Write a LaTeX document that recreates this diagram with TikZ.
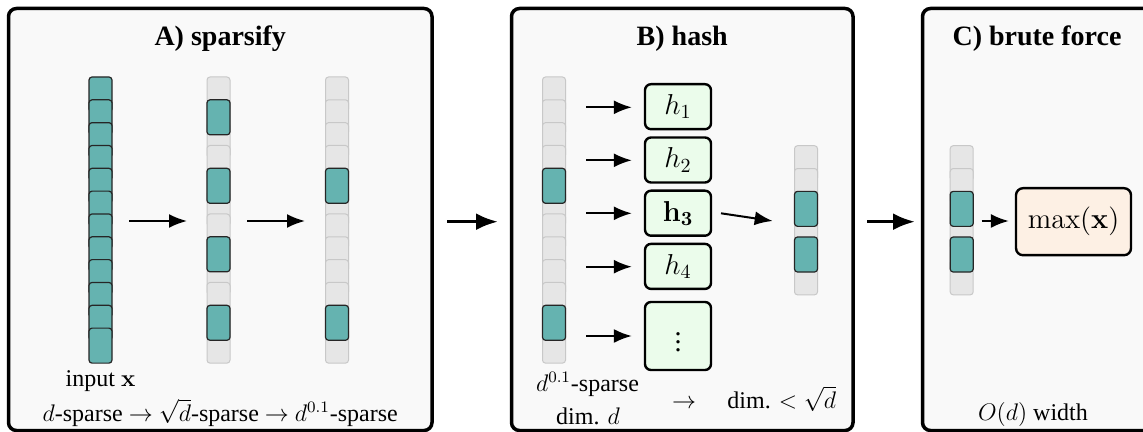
\documentclass[tikz,border=0pt]{standalone}
\usepackage[no-math]{fontspec}
\setmainfont{Liberation Serif}
\newfontfamily\lserif{Liberation Serif}
\usetikzlibrary{arrows.meta}
\definecolor{tealcell}{RGB}{101,179,176}
\definecolor{graycell}{RGB}{230,230,230}
\definecolor{graystroke}{RGB}{200,200,200}
\definecolor{panelbg}{RGB}{249,249,249}
\definecolor{hashbg}{RGB}{235,252,235}
\definecolor{maxbg}{RGB}{253,240,228}
\tikzset{
  panel/.style={draw=black, line width=1.75pt, fill=panelbg, rounded corners=4pt, inner sep=0pt},
  gcell/.style={draw=graystroke, fill=graycell, line width=0.5pt, rounded corners=1.5pt, minimum width=11.5pt, minimum height=17.5pt, inner sep=0pt},
  tcell/.style={draw=black!85, fill=tealcell, line width=0.6pt, rounded corners=1.5pt, minimum width=11.5pt, minimum height=17.5pt, inner sep=0pt},
  hbox/.style={draw=black, fill=hashbg, line width=1.2pt, rounded corners=3pt, minimum width=33pt, minimum height=22.5pt, inner sep=0pt, font=\lserif\fontsize{14}{16}\selectfont},
  mbox/.style={draw=black, fill=maxbg, line width=1.2pt, rounded corners=3.5pt, minimum width=57.5pt, minimum height=33.5pt, inner sep=0pt, font=\lserif\fontsize{14}{16}\selectfont},
  ttl/.style={font=\lserif\fontsize{14}{16}\selectfont\bfseries, anchor=base, inner sep=0pt},
  txt/.style={font=\lserif\fontsize{12}{14}\selectfont, anchor=base, inner sep=0pt},
  arr/.style={-{Latex[length=9pt,width=7pt]}, line width=1pt},
  bigarr/.style={-{Latex[length=11pt,width=8.5pt]}, line width=1.75pt},
}
\begin{document}
\begin{tikzpicture}[x=0.5pt,y=-0.5pt]
\useasboundingbox (0,0) rectangle (1143,432);

% panels
\node[panel, minimum width=211.75pt, minimum height=211pt] (pA) at (220.25,219.5) {};
\node[panel, minimum width=170.75pt, minimum height=211pt] (pB) at (682.25,219.5) {};
\node[panel, minimum width=114.75pt, minimum height=211pt] (pC) at (1037.25,219.5) {};

% titles
\node[ttl] (tA) at (220.25,46) {A) sparsify};
\node[ttl] (tB) at (682.25,46) {B) hash};
\node[ttl] (tC) at (1037,46) {C) brute force};

% Panel A vectors
\foreach \i in {0,...,11} \node[tcell] (va\i) at (100.5,{94.5+22.83*\i}) {};
\foreach \i in {0,...,11} \node[gcell] (vb\i) at (218.5,{94.5+22.83*\i}) {};
\foreach \i in {1,4,7,10} \node[tcell] (vbt\i) at (218.5,{94.5+22.83*\i}) {};
\foreach \i in {0,...,11} \node[gcell] (vc\i) at (337,{94.5+22.83*\i}) {};
\foreach \i in {4,10} \node[tcell] (vct\i) at (337,{94.5+22.83*\i}) {};

\coordinate (a1s) at (129,221);
\coordinate (a1e) at (187,221);
\coordinate (a2s) at (247,221);
\coordinate (a2e) at (305,221);
\draw[arr] (a1s) -- (a1e);
\draw[arr] (a2s) -- (a2e);

\node[txt] (inp) at (100.5,386) {input $\mathbf{x}$};
\node[txt] (capA) at (220.25,421) {$d$-sparse $\rightarrow$ $\sqrt{d}$-sparse $\rightarrow$ $d^{0.1}$-sparse};

% big arrows between panels
\coordinate (bAs) at (447,221.7);
\coordinate (bAe) at (498,221.7);
\coordinate (bBs) at (867,221.7);
\coordinate (bBe) at (915,221.7);
\draw[bigarr] (bAs) -- (bAe);
\draw[bigarr] (bBs) -- (bBe);

% Panel B
\foreach \i in {0,...,11} \node[gcell] (vd\i) at (554,{94.5+22.83*\i}) {};
\foreach \i in {4,10} \node[tcell] (vdt\i) at (554,{94.5+22.83*\i}) {};

\node[hbox] (h1) at (678,106.7) {$h_1$};
\node[hbox] (h2) at (678,160) {$h_2$};
\node[hbox] (h3) at (678,213.2) {$\mathbf{h_3}$};
\node[hbox] (h4) at (678,266.4) {$h_4$};
\node[hbox, minimum height=34pt] (h5) at (678,336) {$\vdots$};

\coordinate (hs1) at (586,107.3);
\coordinate (hs2) at (586,160.3);
\coordinate (hs3) at (586,213.3);
\coordinate (hs4) at (586,266.7);
\coordinate (hs5) at (586,336);
\draw[arr, shorten >=6pt] (hs1) -- (h1.west|-hs1);
\draw[arr, shorten >=6pt] (hs2) -- (h2.west|-hs2);
\draw[arr, shorten >=6pt] (hs3) -- (h3.west|-hs3);
\draw[arr, shorten >=6pt] (hs4) -- (h4.west|-hs4);
\draw[arr, shorten >=6pt] (hs5) -- (h5.west|-hs5);

\foreach \i in {0,...,5} \node[gcell] (ve\i) at (806,{163.2+22.83*\i}) {};
\foreach \i in {2,4} \node[tcell] (vet\i) at (806,{163.2+22.83*\i}) {};

\coordinate (h3s) at (721,213.3);
\coordinate (h3e) at (772.7,221);
\draw[arr] (h3s) -- (h3e);

\node[txt] (spB) at (587.5,391.5) {$d^{0.1}$-sparse};
\node[txt] (dimB) at (588,424) {dim. $d$};
\node[txt] (arB) at (684,408.5) {$\rightarrow$};
\node[txt] (dimB2) at (781.7,408.5) {dim. $<\sqrt{d}$};

% Panel C
\foreach \i in {0,...,5} \node[gcell] (vf\i) at (961.7,{163.2+22.83*\i}) {};
\foreach \i in {2,4} \node[tcell] (vft\i) at (961.7,{163.2+22.83*\i}) {};

\node[mbox] (mx) at (1073.5,221.7) {$\max(\mathbf{x})$};
\coordinate (cs) at (981.7,221);
\draw[arr, shorten >=3pt] (cs) -- (mx.west|-cs);

\node[txt] (capC) at (1033,420.5) {$O(d)$ width};
\end{tikzpicture}
\end{document}
